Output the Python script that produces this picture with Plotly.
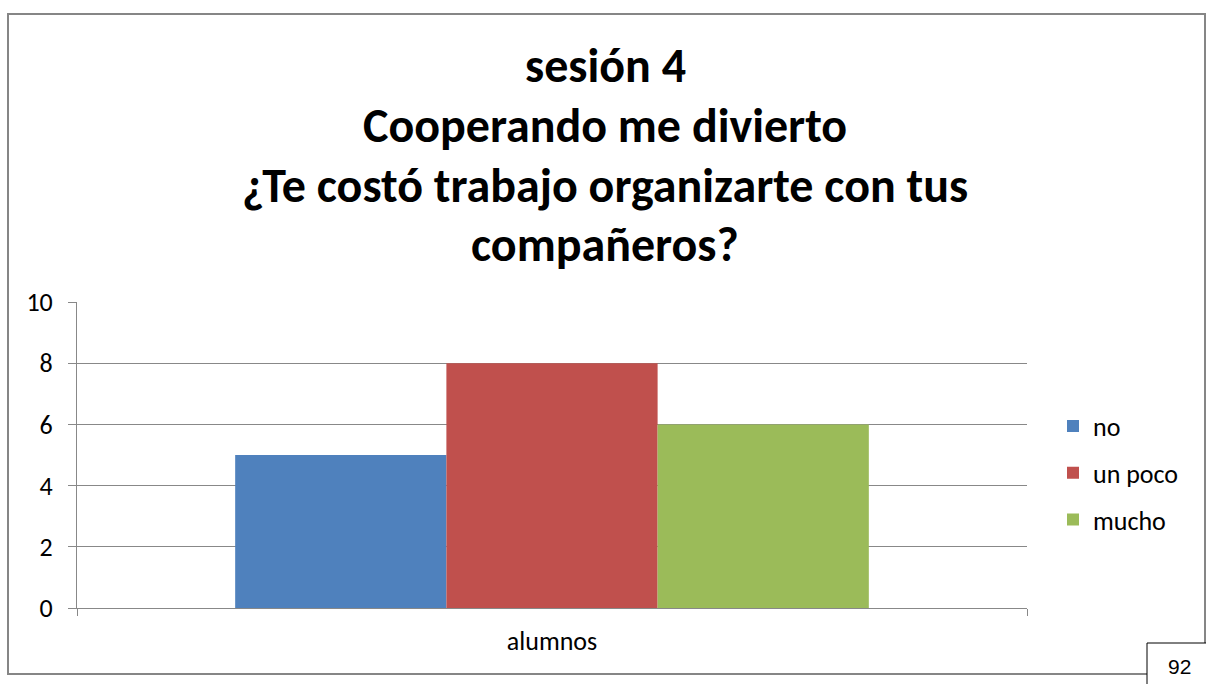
import plotly.graph_objects as go

categories = ["alumnos"]
series_names = ["no", "un poco", "mucho"]
series_values = [[5], [8], [6]]
series_colors = ["#4F81BD", "#C0504D", "#9BBB59"]
y_ticks = [0, 2, 4, 6, 8, 10]
title_lines = ["sesión 4", "Cooperando me divierto",
               "¿Te costó trabajo organizarte con tus", "compañeros?"]
page_number = "92"

FONT = "Carlito, Calibri, Lato, sans-serif"

fig = go.Figure()
for name, vals, col in zip(series_names, series_values, series_colors):
    fig.add_trace(go.Bar(x=categories, y=vals, name=name, marker_color=col,
                         marker_line_width=0, legendgroup=name))

W, H = 1206, 684
L, R, T, B = 77, 1027, 302, 608

def px_x(px):
    return (px - L) / (R - L)

def px_y(py):
    return (B - py) / (B - T)

title_baselines = [80, 140, 200, 259]
annotations = []
for line, base in zip(title_lines, title_baselines):
    annotations.append(dict(
        text="<b>" + line + "</b>", xref="paper", yref="paper",
        x=px_x(605), y=px_y(base - 15), xanchor="center", yanchor="middle",
        showarrow=False, font=dict(family=FONT, size=48, color="black")))
annotations.append(dict(
    text=page_number, xref="paper", yref="paper",
    x=px_x(1179), y=px_y(666), xanchor="center", yanchor="middle",
    showarrow=False,
    font=dict(family="Liberation Sans, Arial", size=21, color="black")))

fig.update_layout(
    width=W, height=H,
    margin=dict(l=L, r=W - R, t=T, b=H - B),
    paper_bgcolor="white", plot_bgcolor="white",
    barmode="group", bargap=0.333, bargroupgap=0,
    font=dict(family=FONT, color="black"),
    legend=dict(x=px_x(1053), xanchor="left", y=px_y(473), yanchor="middle",
                font=dict(size=26), tracegroupgap=10, traceorder="grouped",
                bgcolor="rgba(0,0,0,0)"),
    xaxis=dict(showline=True, linecolor="#888888", linewidth=1,
               ticks="outside", tickson="boundaries", ticklen=7,
               tickcolor="#888888", tickfont=dict(size=26), showgrid=False,
               ticklabelstandoff=10),
    yaxis=dict(range=[0, 10], tickvals=y_ticks, showline=True,
               linecolor="#888888", linewidth=1, ticks="outside", ticklen=8,
               tickcolor="#888888", showgrid=True, gridcolor="#888888",
               gridwidth=1, tickfont=dict(size=26), ticklabelstandoff=10,
               zeroline=False),
    shapes=[
        dict(type="rect", xref="paper", yref="paper",
             x0=px_x(8), x1=px_x(1205), y0=px_y(674), y1=px_y(14),
             line=dict(color="#868686", width=2), layer="above"),
        dict(type="rect", xref="paper", yref="paper",
             x0=px_x(1147), x1=px_x(1215), y0=px_y(695), y1=px_y(643),
             line=dict(color="black", width=1), fillcolor="white",
             layer="above"),
    ],
    annotations=annotations,
)

fig.write_html("out.html", config={"displayModeBar": False},
               post_script="document.body.style.margin='0';"
                           "document.body.style.padding='0';")
